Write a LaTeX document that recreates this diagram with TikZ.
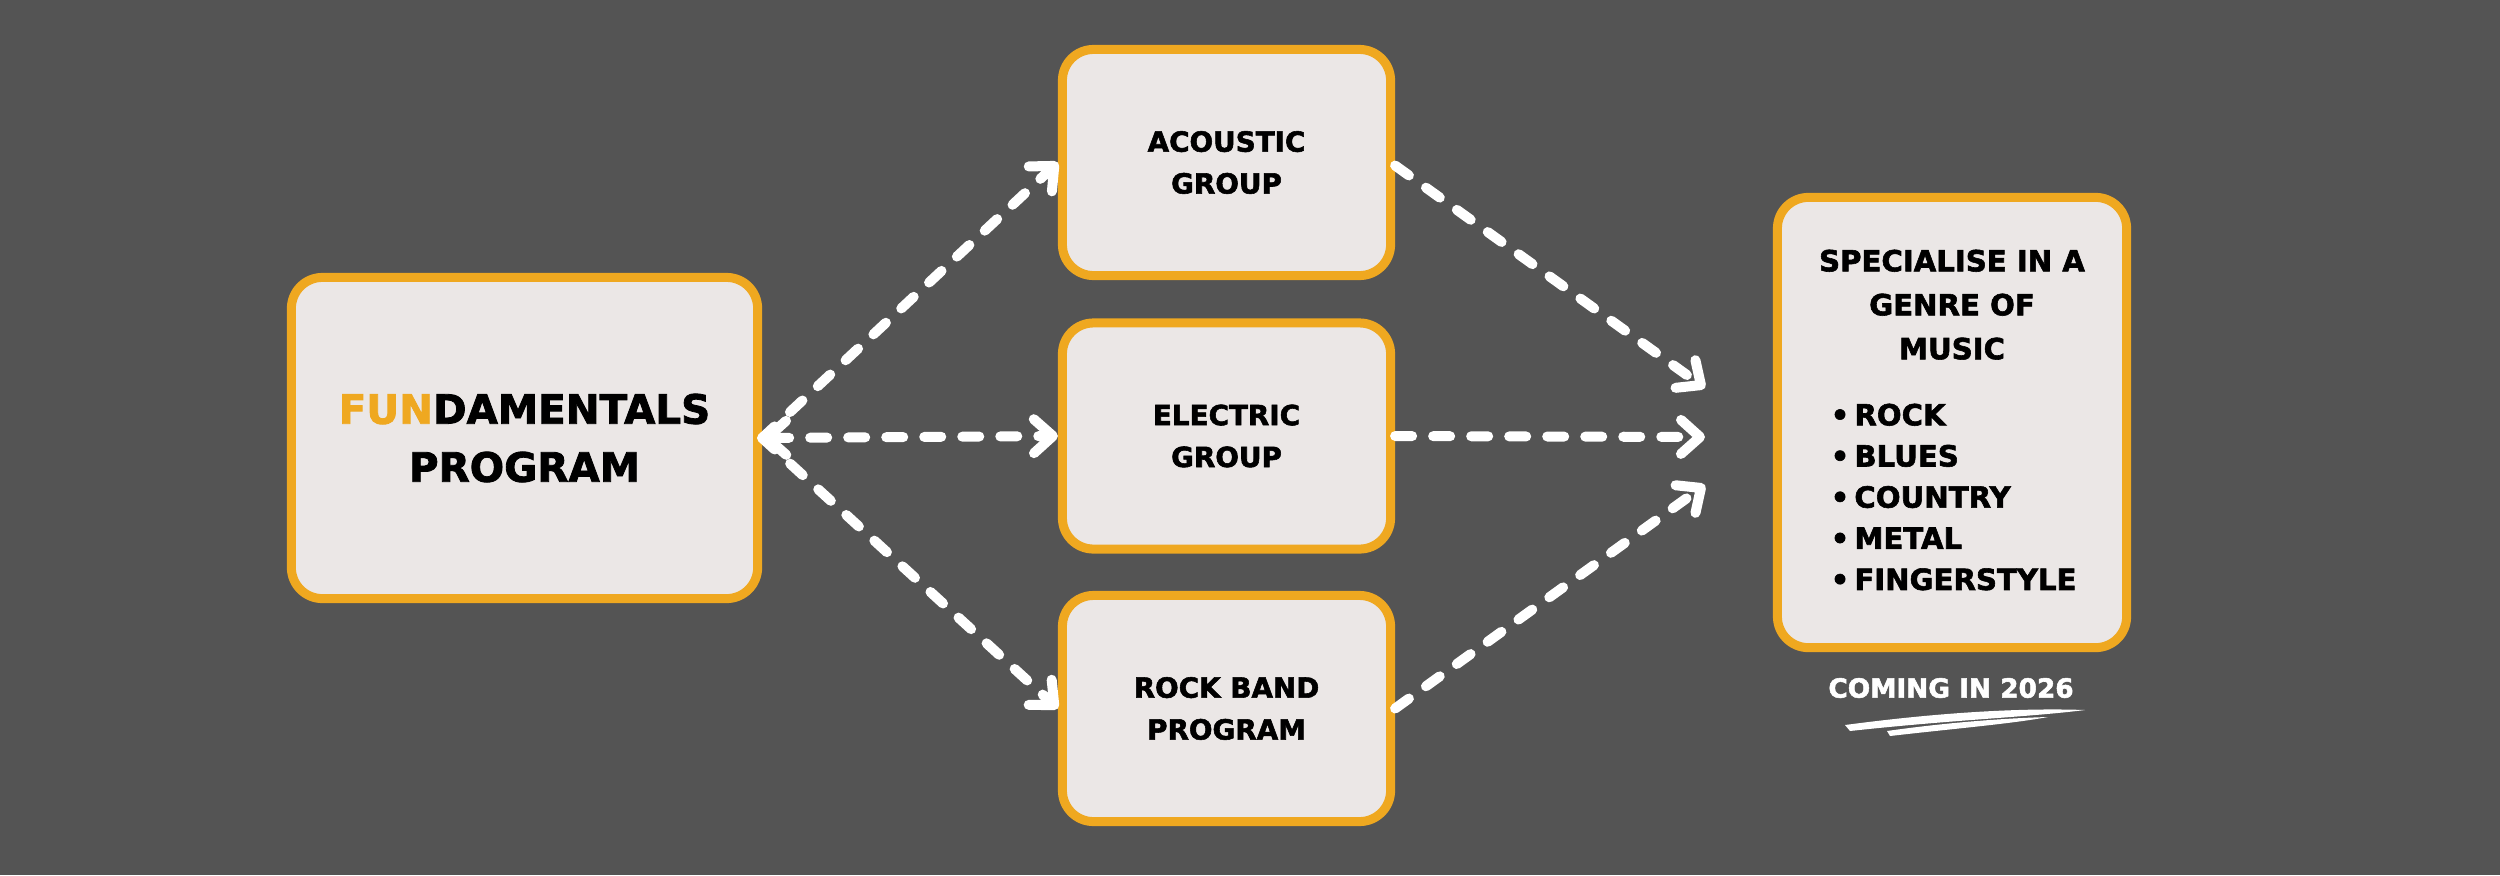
\documentclass[tikz,border=0pt]{standalone}
\usepackage{fontspec}
\setmainfont{DejaVu Sans}[BoldFeatures={FakeBold=2}]
\usetikzlibrary{arrows.meta}
\definecolor{bg}{HTML}{545454}
\definecolor{gold}{HTML}{EFA820}
\definecolor{paper}{HTML}{EBE7E6}
\begin{document}
\begin{tikzpicture}[x=0.01cm,y=-0.01cm,
  box/.style={draw=gold, fill=paper, line width=0.09cm, rounded corners=0.31cm, align=center, inner sep=0pt},
  smallbox/.style={box, minimum width=3.28cm, minimum height=2.26cm,
     font=\bfseries\fontsize{7.9}{11.9}\selectfont},
  tipb/.tip={Straight Barb[length=0.19cm,width=0.34cm,round]},
  flow/.style={draw=white, line width=0.1cm, line cap=round, dash pattern=on 0.17cm off 0.21cm, -tipb},
  flow2/.style={flow, tipb-tipb}]
\useasboundingbox (0,0) rectangle (2500,875);
\fill[bg] (0,0) rectangle (2500,875);

\node[box, minimum width=4.66cm, minimum height=3.21cm,
      font=\bfseries\fontsize{11.5}{16.5}\selectfont] (fund) at (524.5,438)
      {\textcolor{gold}{FUN}DAMENTALS\\PROGRAM};
\node[smallbox] (acou) at (1226.5,162.5) {ACOUSTIC\\GROUP};
\node[smallbox] (elec) at (1226.5,436) {ELECTRIC\\GROUP};
\node[smallbox] (rock) at (1226.5,708.5) {ROCK BAND\\PROGRAM};

\node[box, minimum width=3.49cm, minimum height=4.5cm] (spec) at (1952,422.5) {};
\node[anchor=north, inner sep=0pt, align=center,
      font=\bfseries\fontsize{8.3}{12.5}\selectfont] (spechead) at (1952,249)
      {SPECIALISE IN A\\GENRE OF\\MUSIC};
\node[anchor=north west, inner sep=0pt, align=left,
      font=\bfseries\fontsize{8.3}{11.7}\selectfont] (speclist) at (1830,403)
      {•\hspace{0.05cm}ROCK\\•\hspace{0.05cm}BLUES\\•\hspace{0.05cm}COUNTRY\\•\hspace{0.05cm}METAL\\•\hspace{0.05cm}FINGERSTYLE};

\node[inner sep=0pt, text=white, font=\bfseries\fontsize{7.5}{9}\selectfont] (coming) at (1951,688) {COMING IN 2026};
\fill[white] (1845,725) .. controls (1950,711) and (2030,708) .. (2085,710)
   .. controls (2030,717) and (1950,720) .. (1850,731) -- cycle;
\fill[white] (1887,731) .. controls (1950,722) and (2010,718) .. (2048,717)
   .. controls (2010,724) and (1950,729) .. (1890,736) -- cycle;

\coordinate (t1) at (1705,388);
\coordinate (t2) at (1705,437);
\coordinate (t3) at (1705,485);

\draw[flow2] (fund.east) -- (elec.west);
\draw[flow] (fund.east) -- (acou.west);
\draw[flow] (fund.east) -- (rock.west);
\draw[flow] ([yshift=-0.03cm]acou.east) -- (t1);
\draw[flow] (elec.east) -- (t2);
\draw[flow] (rock.east) -- (t3);
\end{tikzpicture}
\end{document}
